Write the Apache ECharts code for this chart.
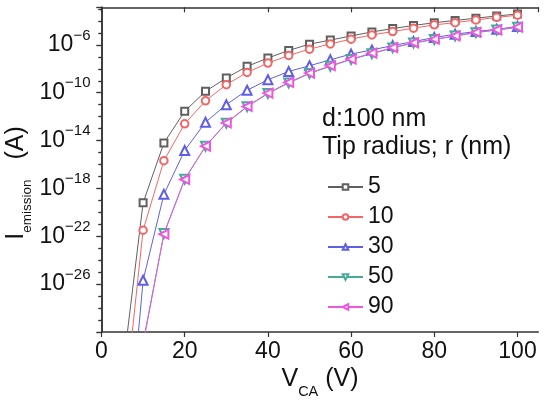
<!DOCTYPE html>
<html>
<head>
<meta charset="utf-8">
<script src="https://cdn.jsdelivr.net/npm/echarts@6/dist/echarts.min.js"></script>
<style>html,body{margin:0;padding:0;background:#fff;}#c{width:550px;height:405px;}</style>
</head>
<body>
<div id="c"></div>
<script>
// Anode-cathode voltage V_CA (V)
var vca = [5,10,15,20,25,30,35,40,45,50,55,60,65,70,75,80,85,90,95,100];
// Emission current (A) for tip radius r (nm)
var iR5  = [3e-34,6.3e-20,6.3e-15,2.8e-12,1.3e-10,1.7e-9,1.6e-8,7.9e-8,3.4e-7,1.15e-6,2.5e-6,5.6e-6,1.2e-5,2.3e-5,4.2e-5,7.1e-5,1.1e-4,1.7e-4,2.6e-4,3.8e-4];
var iR10 = [1.6e-38,3.2e-22,2.1e-16,2.5e-13,2.1e-11,4.7e-10,5e-9,3e-8,1.3e-7,4.4e-7,1.2e-6,3e-6,6.8e-6,1.3e-5,2.5e-5,4.7e-5,7.2e-5,1.2e-4,2e-4,3e-4];
var iR30 = [1e-45,2.1e-26,3.2e-19,1.5e-15,3.4e-13,1e-11,1.6e-10,1.2e-9,6e-9,1.8e-8,5.6e-8,1.7e-7,3.8e-7,8.7e-7,1.9e-6,4.1e-6,7.8e-6,1.3e-5,2e-5,3.4e-5];
var iR50 = [1e-54,1.3e-31,1.7e-22,5.9e-18,3.3e-15,2.8e-13,6.6e-12,8.5e-11,6.5e-10,4e-9,1.6e-8,6e-8,1.8e-7,5.6e-7,1.4e-6,2.8e-6,5.4e-6,1.05e-5,1.75e-5,2.9e-5];
var iR90 = [1e-55,1e-31,1.5e-22,5.6e-18,3.4e-15,3e-13,7.2e-12,9.3e-11,7.2e-10,4.4e-9,1.8e-8,6.5e-8,2e-7,6e-7,1.5e-6,3e-6,5.6e-6,1.1e-5,1.8e-5,3e-5];
var seriesNames = ['5','10','30','50','90'];
var xTicks = [0,20,40,60,80,100];

var FONT = "'Liberation Sans', Arial, sans-serif";
var AX = '#333';
function pts(arr){ return vca.map(function(v,i){ return [v, Math.log10(arr[i])]; }); }

var styles = [
  {c:'#606060', s:'emptyRect', z:7, r:0},
  {c:'#f26666', s:'emptyCircle', z:7.5, r:0},
  {c:'#5f5fe6', s:'emptyTriangle', z:9, r:0},
  {c:'#4aaa98', s:'emptyTriangle', z:9, r:180},
  {c:'#ee55e0', s:'emptyTriangle', z:9, r:90}
];
var datas = [iR5, iR10, iR30, iR50, iR90];

var series = datas.map(function(d, k){
  var st = styles[k];
  return {
    name: seriesNames[k], type:'line', data: pts(d),
    xAxisIndex:0, yAxisIndex:0,
    symbol: st.s, symbolSize: st.z, symbolRotate: st.r,
    lineStyle:{color: st.c, width: 1},
    itemStyle:{color: st.c, borderWidth: 1},
    clip: true, animation: false
  };
});

function supLabel(v){
  var n = Math.round(v);
  return '{b|10}{s|' + (n < 0 ? '\u2212' + (-n) : n) + '}';
}

var yBase = {
  type:'value', min:-30, max:-2.86, interval:4,
  splitLine:{show:false},
  axisLine:{show:true, lineStyle:{color:AX, width:1.5}},
  minorTick:{show:true, splitNumber:4, length:3, lineStyle:{color:AX, width:1.2}},
  minorSplitLine:{show:false}
};

var option = {
  backgroundColor:'#fff',
  animation:false,
  grid:{left:101.5, right:11.7, top:7.3, bottom:73, containLabel:false},
  xAxis:[
    {type:'value', min:0, max:105, interval:20, position:'bottom',
     splitLine:{show:false},
     axisLine:{show:true, onZero:false, lineStyle:{color:AX, width:1.5}},
     axisTick:{show:true, inside:false, length:5, lineStyle:{color:AX, width:1.2}},
     axisLabel:{fontSize:23, color:'#111', fontFamily:FONT, margin:8, showMaxLabel:false,
       formatter:function(v){ return xTicks.indexOf(v) >= 0 ? String(v) : ''; }}},
    {type:'value', min:0, max:105, interval:20, position:'top',
     splitLine:{show:false},
     axisLine:{show:true, onZero:false, lineStyle:{color:AX, width:1.5}},
     axisTick:{show:true, inside:true, length:5, lineStyle:{color:AX, width:1.2}},
     axisLabel:{show:false}}
  ],
  yAxis:[
    Object.assign({}, yBase, {position:'left',
      axisTick:{show:true, inside:false, length:5, lineStyle:{color:AX, width:1.2}},
      axisLabel:{show:true, margin:11, showMinLabel:false, showMaxLabel:false, formatter:supLabel, color:'#111',
        rich:{
          b:{fontSize:23, fontFamily:FONT, color:'#111', lineHeight:34},
          s:{fontSize:15, fontFamily:FONT, color:'#111', lineHeight:15, verticalAlign:'top'}
        }}}),
    Object.assign({}, yBase, {position:'right',
      axisTick:{show:true, inside:true, length:5, lineStyle:{color:AX, width:1.2}},
      axisLabel:{show:false}})
  ],
  legend:{
    orient:'vertical', left:322, top:170,
    data: seriesNames,
    itemWidth:35, itemHeight:7, itemGap:6,
    textStyle:{fontSize:23, fontFamily:FONT, color:'#111', lineHeight:24},
    selectedMode:false
  },
  graphic:[
    {type:'text', left:322, top:107, silent:true,
     style:{text:'d:100 nm', fontSize:25, fontFamily:FONT, fill:'#111'}},
    {type:'text', left:322, top:134.5, silent:true,
     style:{text:'Tip radius; r (nm)', fontSize:25, fontFamily:FONT, fill:'#111'}},
    {type:'text', x:320, y:366.5, silent:true,
     style:{text:'{m|V}{s|CA}{m| (V)}', align:'center', verticalAlign:'top',
       rich:{
         m:{fontSize:25, fontFamily:FONT, fill:'#111', lineHeight:25, verticalAlign:'top'},
         s:{fontSize:14.5, fontFamily:FONT, fill:'#111', lineHeight:14.5, padding:[18,0,0,0], verticalAlign:'top'}
       }}},
    {type:'text', x:16, y:183, rotation:Math.PI/2, silent:true,
     style:{text:'{m|I}{s|emission}{a|(A)}', align:'center', verticalAlign:'middle',
       rich:{
         m:{fontSize:25, fontFamily:FONT, fill:'#111', lineHeight:25, verticalAlign:'top'},
         a:{fontSize:25, fontFamily:FONT, fill:'#111', lineHeight:25, verticalAlign:'top', padding:[0,0,0,20]},
         s:{fontSize:13.5, fontFamily:FONT, fill:'#111', lineHeight:13.5, padding:[17,0,0,0], verticalAlign:'top'}
       }}}
  ],
  series: series
};

var chart = echarts.init(document.getElementById('c'), null, {renderer:'canvas'});
chart.setOption(option);
</script>
</body>
</html>
